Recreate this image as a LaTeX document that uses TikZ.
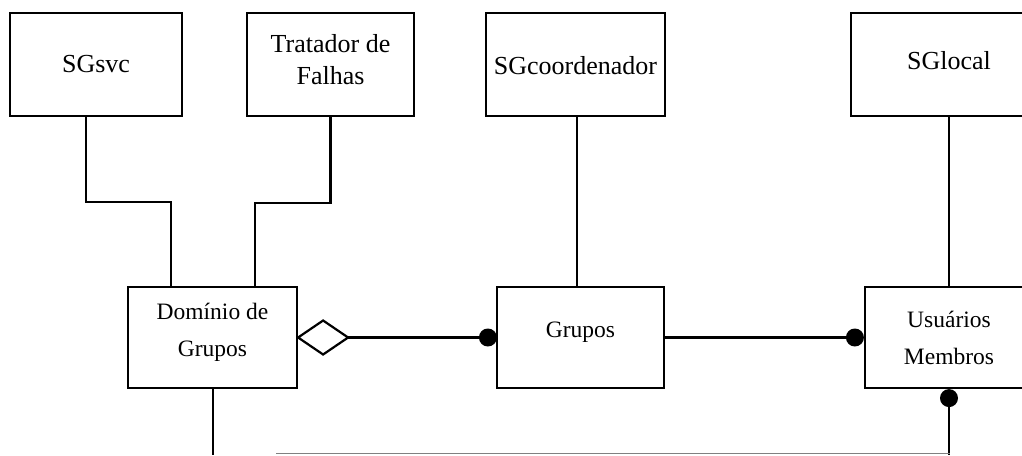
\documentclass[tikz,border=0pt]{standalone}
\usepackage{fontspec}
\setmainfont{Liberation Serif}
\usetikzlibrary{calc}
\begin{document}
\begin{tikzpicture}[x=1pt,y=-1pt,
  box/.style={draw,line width=2.2pt,rectangle,inner sep=0pt},
  topbox/.style={box,minimum height=103pt},
  lowbox/.style={box,minimum height=101pt},
  toptext/.style={inner sep=0pt,align=center,font=\fontsize{26}{32}\selectfont},
  lowtext/.style={inner sep=0pt,align=center,font=\fontsize{23.5}{37}\selectfont},
  conn/.style={line width=2.2pt},
  dot/.style={circle,fill=black,inner sep=0pt,minimum size=18pt}]
\useasboundingbox (0,0) rectangle (1022,455);
% top boxes
\node[topbox,minimum width=172pt] (svc) at (96,64.5) {};
\node[topbox,minimum width=167pt] (trat) at (330.5,64.5) {};
\node[topbox,minimum width=179pt] (coord) at (575.5,64.5) {};
\node[topbox,minimum width=196pt] (local) at (949,64.5) {};
\node[toptext] (tsvc) at ($(svc.center)+(0,0)$) {SGsvc};
\node[toptext] (ttrat) at ($(trat.center)+(0,-5)$) {Tratador de\\Falhas};
\node[toptext] (tcoord) at ($(coord.center)+(0,1)$) {SGcoordenador};
\node[toptext] (tlocal) at ($(local.center)+(0,-4)$) {SGlocal};
% lower boxes
\node[lowbox,minimum width=169pt] (dom) at (212.5,337.5) {};
\node[lowbox,minimum width=167pt] (grp) at (580.5,337.5) {};
\node[lowbox,minimum width=168pt] (usr) at (949,337.5) {};
\node[lowtext] (tdom) at ($(dom.center)+(0,-5)$) {Domínio de\\Grupos};
\node[lowtext] (tgrp) at ($(grp.center)+(0,-5)$) {Grupos};
\node[lowtext] (tusr) at ($(usr.center)+(0,0)$) {Usuários\\Membros};
% connectors from top boxes
\draw[conn] (svc.south -| 86,0) |- (171,202) -- (dom.north -| 171,0);
\draw[conn] (trat.south) |- (255,203) -- (dom.north -| 255,0);
\draw[conn] (coord.south -| 577,0) -- (grp.north -| 577,0);
\draw[conn] (local.south) -- (usr.north);
% aggregation diamond and associations
\draw[conn,fill=white,line join=miter] (dom.east) -- ++(25,-17) -- ++(25,17) coordinate (dtip) -- ++(-25,17) -- cycle;
\node[dot] (d1) at ($(grp.west)+(-8,0)$) {};
\draw[conn] (dtip) -- (d1);
\node[dot] (d2) at ($(usr.west)+(-9,0)$) {};
\draw[conn] (grp.east) -- (d2);
\node[dot] (d3) at ($(usr.south)+(0,9)$) {};
% bottom connectors
\coordinate (b1) at (213,455);
\coordinate (b2) at (949,455);
\coordinate (h1) at (276,453.5);
\coordinate (h2) at (950,453.5);
\draw[conn] (dom.south -| 213,0) -- (b1);
\draw[conn] (d3) -- (b2);
\draw[line width=1.8pt,gray] (h1) -- (h2);
\end{tikzpicture}
\end{document}
